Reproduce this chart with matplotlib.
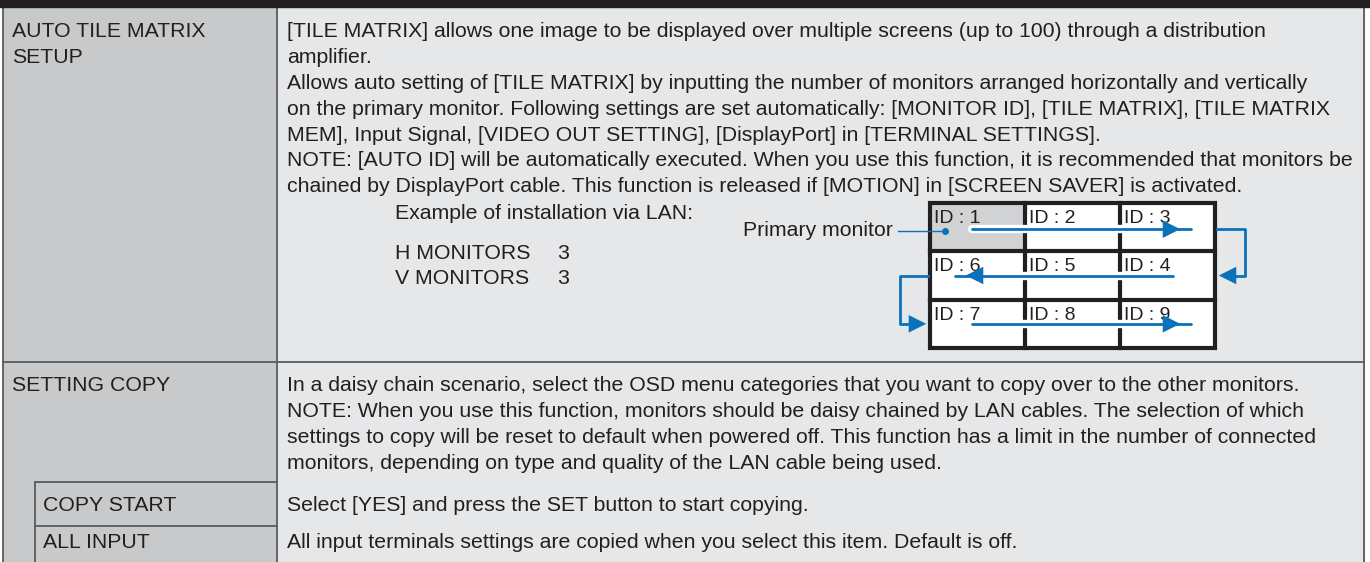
import matplotlib.pyplot as plt
import matplotlib.patheffects as pe
from matplotlib.patches import Rectangle

# table content
row_labels = ["AUTO TILE MATRIX\nSETUP", "SETTING COPY"]
sub_labels = ["COPY START", "ALL INPUT"]
tile_lines = [
    "[TILE MATRIX] allows one image to be displayed over multiple screens (up to 100) through a distribution",
    "amplifier.",
    "Allows auto setting of [TILE MATRIX] by inputting the number of monitors arranged horizontally and vertically",
    "on the primary monitor. Following settings are set automatically: [MONITOR ID], [TILE MATRIX], [TILE MATRIX",
    "MEM], Input Signal, [VIDEO OUT SETTING], [DisplayPort] in [TERMINAL SETTINGS].",
    "NOTE: [AUTO ID] will be automatically executed. When you use this function, it is recommended that monitors be",
    "chained by DisplayPort cable. This function is released if [MOTION] in [SCREEN SAVER] is activated.",
]
copy_lines = [
    "In a daisy chain scenario, select the OSD menu categories that you want to copy over to the other monitors.",
    "NOTE: When you use this function, monitors should be daisy chained by LAN cables. The selection of which",
    "settings to copy will be reset to default when powered off. This function has a limit in the number of connected",
    "monitors, depending on type and quality of the LAN cable being used.",
]
sub_texts = [
    "Select [YES] and press the SET button to start copying.",
    "All input terminals settings are copied when you select this item. Default is off.",
]
example_title = "Example of installation via LAN:"
h_monitors = 3
v_monitors = 3
monitor_ids = [[1, 2, 3], [6, 5, 4], [7, 8, 9]]

DARK = "#231f20"
LEFT_BG = "#c8c9cb"
RIGHT_BG = "#e6e7e8"
LINE = "#5a5b5d"
BLUE = "#0a72ba"
FS = 15.3
PITCH = 25.9

plt.rcParams["font.family"] = ["Liberation Sans", "DejaVu Sans"]

fig = plt.figure(figsize=(13.7, 5.62), dpi=100)
ax = fig.add_axes([0, 0, 1, 1])
ax.set_xlim(0, 1370)
ax.set_ylim(562, 0)
ax.axis("off")

W = 1364
SPLIT = 277
ROW2 = 362
SUB1 = 482
SUB2 = 526

# backgrounds
ax.add_patch(Rectangle((0, 0), 1370, 562, color="white", zorder=0))
ax.add_patch(Rectangle((3, 0), SPLIT - 3, 562, color=LEFT_BG, zorder=0))
ax.add_patch(Rectangle((SPLIT, 0), W - SPLIT, 562, color=RIGHT_BG, zorder=0))
ax.add_patch(Rectangle((0, 0), 1370, 7, color=DARK, zorder=3))

# table rules
lw = 1.3
ax.plot([3, 3], [0, 562], color=LINE, lw=lw)
ax.plot([SPLIT, SPLIT], [0, 562], color=LINE, lw=lw)
ax.plot([W, W], [0, 562], color=LINE, lw=lw)
ax.plot([3, W], [ROW2, ROW2], color=LINE, lw=lw)
ax.plot([35, 35], [SUB1, 562], color=LINE, lw=lw)
ax.plot([35, SPLIT], [SUB1, SUB1], color=LINE, lw=lw)
ax.plot([35, SPLIT], [SUB2, SUB2], color=LINE, lw=lw)

# left labels
for i, line in enumerate(row_labels[0].split("\n")):
    ax.text(12, 37 + i * PITCH, line, fontsize=FS, color=DARK, va="baseline")
ax.text(12, 391, row_labels[1], fontsize=FS, color=DARK, va="baseline")
for lab, y in zip(sub_labels, [511, 548]):
    ax.text(43, y, lab, fontsize=FS, color=DARK, va="baseline")

# right texts
for i, line in enumerate(tile_lines):
    ax.text(287, 37 + i * PITCH, line, fontsize=FS, color=DARK, va="baseline")
for i, line in enumerate(copy_lines):
    ax.text(287, 391 + i * PITCH, line, fontsize=FS, color=DARK, va="baseline")
for txt, y in zip(sub_texts, [511, 548]):
    ax.text(287, y, txt, fontsize=FS, color=DARK, va="baseline")

# example block
ax.text(395, 219, example_title, fontsize=FS, color=DARK, va="baseline")
ax.text(395, 259, "H MONITORS", fontsize=FS, color=DARK, va="baseline")
ax.text(557, 259, str(h_monitors), fontsize=FS, color=DARK, va="baseline")
ax.text(395, 284, "V MONITORS", fontsize=FS, color=DARK, va="baseline")
ax.text(557, 284, str(v_monitors), fontsize=FS, color=DARK, va="baseline")

# monitor grid
gx0, gx1, gy0, gy1 = 930, 1215, 203, 348
cw = (gx1 - gx0) / h_monitors
rh = (gy1 - gy0) / v_monitors
for r in range(v_monitors):
    for c in range(h_monitors):
        fc = "#d1d2d4" if monitor_ids[r][c] == 1 else "white"
        ax.add_patch(Rectangle((gx0 + c * cw, gy0 + r * rh), cw, rh,
                               facecolor=fc, edgecolor="none", zorder=2))
        ax.text(gx0 + c * cw + 4, gy0 + r * rh + 20, f"ID : {monitor_ids[r][c]}",
                fontsize=14, color=DARK, va="baseline", zorder=3)
for c in range(1, h_monitors):
    ax.plot([gx0 + c * cw] * 2, [gy0, gy1], color=DARK, lw=3, zorder=3)
for r in range(1, v_monitors):
    ax.plot([gx0, gx1], [gy0 + r * rh] * 2, color=DARK, lw=3, zorder=3)
ax.add_patch(Rectangle((gx0, gy0), gx1 - gx0, gy1 - gy0, facecolor="none",
                       edgecolor=DARK, lw=3, zorder=4))

halo = [pe.Stroke(linewidth=6, foreground="white"), pe.Normal()]
row_y = [gy0 + (r + 0.5) * rh for r in range(v_monitors)]
row_y[0] += 2
for r in range(v_monitors):
    if r % 2 == 0:
        xs, xe = gx0 + 42, gx1 - 32
    else:
        xs, xe = gx1 - 42, gx0 + 33
    ax.plot([xs, xe + (8 if r % 2 == 0 else -8)], [row_y[r]] * 2, color=BLUE,
            lw=2, solid_capstyle="round", path_effects=halo, zorder=5)
    ax.annotate("", xy=(xe, row_y[r]), xytext=(xe + (-12 if r % 2 == 0 else 12), row_y[r]),
                arrowprops=dict(arrowstyle="-|>,head_length=0.9,head_width=0.45",
                                color=BLUE, lw=0, mutation_scale=14), zorder=6)

# connectors between rows
ax.plot([gx1 + 2, gx1 + 30, gx1 + 30, gx1 + 10], [row_y[0], row_y[0], row_y[1], row_y[1]],
        color=BLUE, lw=2, zorder=5)
ax.annotate("", xy=(gx1 + 1, row_y[1]), xytext=(gx1 + 14, row_y[1]),
            arrowprops=dict(arrowstyle="-|>,head_length=0.9,head_width=0.45",
                            color=BLUE, lw=0, mutation_scale=14), zorder=6)
ax.plot([gx0 - 2, gx0 - 30, gx0 - 30, gx0 - 10], [row_y[1], row_y[1], row_y[2], row_y[2]],
        color=BLUE, lw=2, zorder=5)
ax.annotate("", xy=(gx0 - 1, row_y[2]), xytext=(gx0 - 14, row_y[2]),
            arrowprops=dict(arrowstyle="-|>,head_length=0.9,head_width=0.45",
                            color=BLUE, lw=0, mutation_scale=14), zorder=6)

# primary monitor callout
ax.text(893, 236, "Primary monitor", fontsize=FS, color=DARK, va="baseline", ha="right")
ax.plot([898, 945], [231, 231], color=BLUE, lw=1, zorder=5)
ax.plot([945], [231], "o", color=BLUE, ms=4, zorder=6)

fig.savefig("out.png", dpi=100)
